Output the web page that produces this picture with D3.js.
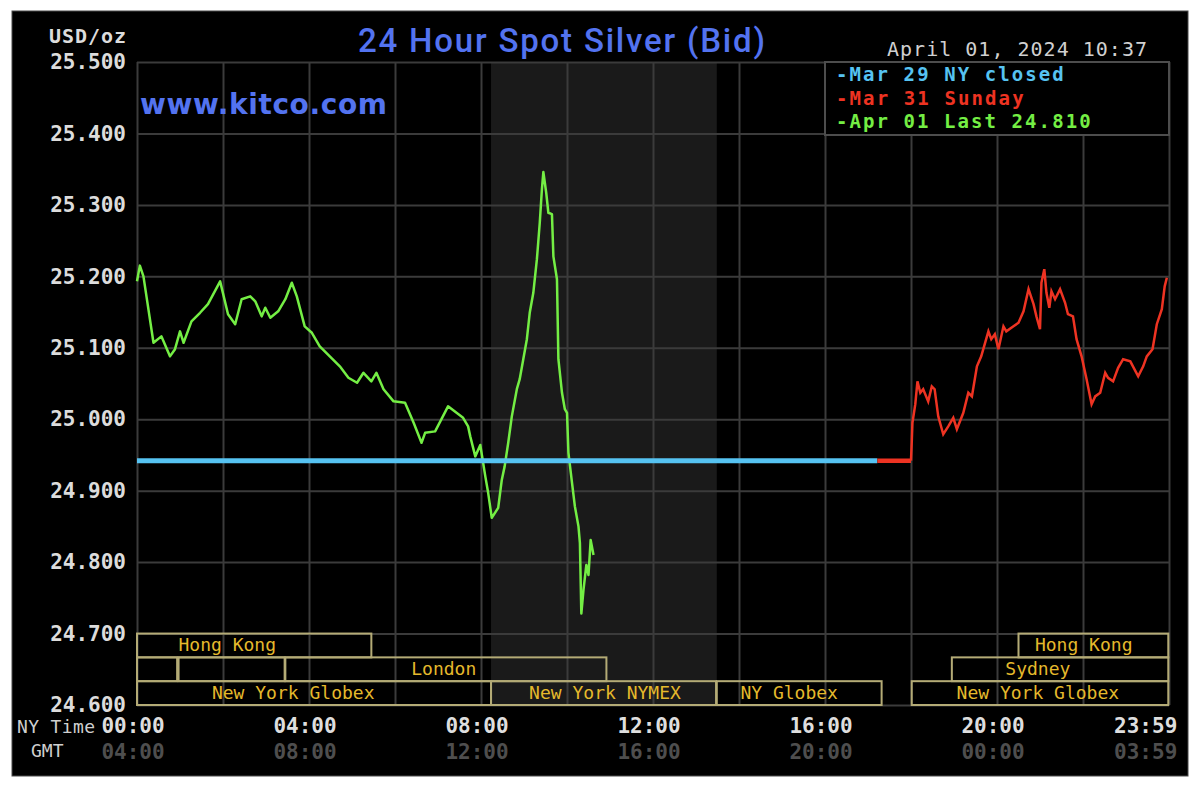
<!DOCTYPE html>
<html>
<head>
<meta charset="utf-8">
<script src="https://cdn.jsdelivr.net/npm/d3@7"></script>
<style>
  html, body { margin: 0; padding: 0; background: #fff; }
  svg { display: block; }
</style>
</head>
<body>
<script>
/* -------------------------------- Data -------------------------------- */
const yTicks = [24.6, 24.7, 24.8, 24.9, 25.0, 25.1, 25.2, 25.3, 25.4, 25.5];
const labelMinutes = [0, 240, 480, 720, 960, 1200, 1439];
const nyTimeLabels = ["00:00", "04:00", "08:00", "12:00", "16:00", "20:00", "23:59"];
const gmtLabels = ["04:00", "08:00", "12:00", "16:00", "20:00", "00:00", "03:59"];

// Mar 29 NY close, carried flat across the day
const closeValue = 24.942;
const closeMinutes = [0, 1033];
const sundayFlatMinutes = [1033, 1080];

// Apr 01 (green), minutes after 00:00 NY time
const todayMinutes = [0, 4, 9, 23, 34, 46, 53, 60, 65, 76, 88, 99, 116, 127, 137, 146, 158, 165, 174, 179,
  186, 197, 207, 216, 223, 234, 244, 255, 269, 283, 295, 307, 316, 327, 334, 344, 358, 374, 386, 397,
  402, 416, 434, 455, 462, 465, 472, 479, 486, 490, 495, 504, 509, 513, 518, 523, 530, 534, 539, 544,
  548, 553, 558, 562, 565, 567, 571, 574, 579, 581, 586, 588, 593, 597, 600, 602, 607, 611, 616, 618,
  620, 623, 627, 630, 633, 637];
const todayValues = [25.193, 25.215, 25.200, 25.107, 25.116, 25.088, 25.098, 25.123, 25.107, 25.137,
  25.149, 25.161, 25.193, 25.147, 25.133, 25.168, 25.172, 25.165, 25.144, 25.156,
  25.142, 25.151, 25.168, 25.191, 25.172, 25.130, 25.121, 25.102, 25.088, 25.074,
  25.058, 25.051, 25.065, 25.053, 25.065, 25.042, 25.025, 25.023, 24.995, 24.967,
  24.981, 24.983, 25.018, 25.002, 24.990, 24.976, 24.948, 24.964, 24.920, 24.897,
  24.862, 24.876, 24.915, 24.934, 24.967, 25.004, 25.042, 25.056, 25.084, 25.112,
  25.149, 25.177, 25.224, 25.275, 25.322, 25.346, 25.317, 25.289, 25.287, 25.228,
  25.196, 25.084, 25.037, 25.014, 25.009, 24.953, 24.911, 24.878, 24.850, 24.827,
  24.728, 24.761, 24.796, 24.782, 24.831, 24.810];

// Mar 31 Sunday evening (red)
const sundayMinutes = [1080, 1081, 1082, 1086, 1089, 1093, 1097, 1104, 1109, 1113,
  1118, 1125, 1132, 1139, 1144, 1153, 1160, 1165, 1172, 1178,
  1188, 1192, 1197, 1202, 1209, 1213, 1223, 1230, 1237, 1244,
  1251, 1255, 1260, 1262, 1266, 1269, 1273, 1276, 1281, 1288,
  1295, 1299, 1306, 1311, 1318, 1325, 1332, 1337, 1344, 1351,
  1355, 1362, 1369, 1376, 1386, 1397, 1404, 1409, 1417, 1423,
  1430, 1434, 1437];
const sundayValues = [24.942, 24.967, 24.995, 25.021, 25.053, 25.037, 25.042, 25.025, 25.046, 25.042,
  25.004, 24.979, 24.990, 25.002, 24.986, 25.009, 25.037, 25.032, 25.074, 25.088,
  25.123, 25.112, 25.119, 25.098, 25.130, 25.123, 25.130, 25.135, 25.151, 25.182,
  25.161, 25.144, 25.126, 25.191, 25.210, 25.177, 25.156, 25.179, 25.168, 25.182,
  25.163, 25.147, 25.144, 25.112, 25.088, 25.056, 25.021, 25.032, 25.037, 25.065,
  25.058, 25.053, 25.072, 25.084, 25.081, 25.060, 25.074, 25.088, 25.098, 25.133,
  25.154, 25.186, 25.198];

// market sessions: row 0 is the top band
const sessionNames = ["Hong Kong", "Hong Kong", "", "", "London", "Sydney",
  "New York Globex", "New York NYMEX", "NY Globex", "New York Globex"];
const sessionRows = [0, 0, 1, 1, 1, 1, 2, 2, 2, 2];
const sessionStart = [0, 1230, 0, 58, 207, 1137, 0, 494, 809, 1081];
const sessionEnd = [327, 1439, 56, 206, 655, 1439, 494, 808, 1039, 1439];
const sessionLabelAt = [126, 1321, 0, 0, 428, 1257, 218, 653, 910, 1257];
const nymexSpan = [494, 809];

const legendLabels = ["-Mar 29 NY closed", "-Mar 31 Sunday", "-Apr 01 Last 24.810"];

/* ------------------------------- Layout ------------------------------- */
const width = 1200, height = 795;
const plot = { left: 137, right: 1169, top: 62, bottom: 705 };
const mono = "'DejaVu Sans Mono', monospace";
const colors = { close: "#56c3f2", sunday: "#ee3322", today: "#74ee44", grid: "#3b3b3b",
  session: "#b4ab76", sessionText: "#e5b92c", title: "#5373f0" };

const svg = d3.select("body").append("svg")
  .attr("width", width)
  .attr("height", height);

const x = d3.scaleLinear().domain([0, 1440]).range([plot.left, plot.right]);
const y = d3.scaleLinear().domain([24.6, 25.5]).range([plot.bottom, plot.top]);

// black panel
svg.append("rect")
  .attr("x", 12).attr("y", 11).attr("width", 1176).attr("height", 765)
  .attr("fill", "#000").attr("stroke", "#4a4a4a").attr("stroke-width", 1);

// NYMEX shading
svg.append("rect")
  .attr("x", x(nymexSpan[0])).attr("y", plot.top)
  .attr("width", x(nymexSpan[1]) - x(nymexSpan[0]))
  .attr("height", plot.bottom - plot.top)
  .attr("fill", "#1a1a1a");

/* -------------------------------- Grid -------------------------------- */
svg.append("g")
  .attr("transform", `translate(${plot.left},0)`)
  .call(d3.axisLeft(y).tickValues(yTicks).tickSize(-(plot.right - plot.left)).tickFormat(""))
  .call(g => g.select(".domain").remove())
  .call(g => g.selectAll("line").attr("stroke", colors.grid).attr("stroke-width", 2));

svg.append("g")
  .attr("transform", `translate(0,${plot.bottom})`)
  .call(d3.axisBottom(x).tickValues(d3.range(0, 1441, 120)).tickSize(-(plot.bottom - plot.top)).tickFormat(""))
  .call(g => g.select(".domain").remove())
  .call(g => g.selectAll("line").attr("stroke", colors.grid).attr("stroke-width", 2));

/* ------------------------------ Sessions ------------------------------ */
const rowH = (y(24.6) - y(24.7)) / 3;
const sessions = sessionNames.map((name, i) => ({
  name, row: sessionRows[i], start: sessionStart[i], end: sessionEnd[i], at: sessionLabelAt[i]
}));
const sessG = svg.append("g");
sessG.selectAll("rect")
  .data(sessions)
  .join("rect")
  .attr("x", d => x(d.start))
  .attr("y", d => y(24.7) + d.row * rowH)
  .attr("width", d => x(d.end) - x(d.start))
  .attr("height", rowH)
  .attr("fill", "none")
  .attr("stroke", colors.session)
  .attr("stroke-width", 2);
sessG.selectAll("text")
  .data(sessions.filter(d => d.name))
  .join("text")
  .attr("x", d => x(d.at))
  .attr("y", d => y(24.7) + (d.row + 1) * rowH - 6)
  .attr("text-anchor", "middle")
  .attr("fill", colors.sessionText)
  .style("font", `18px ${mono}`)
  .text(d => d.name);

/* -------------------------------- Lines ------------------------------- */
const line = d3.line().x(d => x(d[0])).y(d => y(d[1]));

svg.append("path")
  .datum(d3.zip(sundayMinutes, sundayValues))
  .attr("d", line)
  .attr("fill", "none").attr("stroke", colors.sunday).attr("stroke-width", 2.5);

svg.append("path")
  .datum(d3.zip(todayMinutes, todayValues))
  .attr("d", line)
  .attr("fill", "none").attr("stroke", colors.today).attr("stroke-width", 2.5)
  .attr("stroke-linejoin", "round");

svg.append("path")
  .datum(closeMinutes.map(m => [m, closeValue]))
  .attr("d", line)
  .attr("fill", "none").attr("stroke", colors.close).attr("stroke-width", 5);

svg.append("path")
  .datum(sundayFlatMinutes.map(m => [m, closeValue]))
  .attr("d", line)
  .attr("fill", "none").attr("stroke", colors.sunday).attr("stroke-width", 4.5);

/* ------------------------------- Axes --------------------------------- */
svg.append("g")
  .attr("transform", `translate(${plot.left},0)`)
  .call(d3.axisLeft(y).tickValues(yTicks).tickSize(0).tickPadding(11).tickFormat(d3.format(".3f")))
  .call(g => g.select(".domain").remove())
  .call(g => g.selectAll("text")
    .attr("fill", "#dcdcdc")
    .style("font", `bold 21px ${mono}`));

svg.append("text")
  .attr("x", 49).attr("y", 43)
  .attr("textLength", 77)
  .attr("fill", "#dcdcdc").style("font", `bold 20px ${mono}`)
  .text("USD/oz");

const lastIdx = labelMinutes.length - 1;
const labelX = (d, i) => i === lastIdx ? x(d) + 9 : x(d) - 4;
const labelAnchor = (d, i) => i === lastIdx ? "end" : "middle";
const xLab = svg.append("g");
xLab.selectAll("text.ny")
  .data(labelMinutes)
  .join("text")
  .attr("class", "ny")
  .attr("x", labelX)
  .attr("y", 733)
  .attr("text-anchor", labelAnchor)
  .attr("fill", "#dedede")
  .style("font", `bold 21px ${mono}`)
  .text((d, i) => nyTimeLabels[i]);
xLab.selectAll("text.gmt")
  .data(labelMinutes)
  .join("text")
  .attr("class", "gmt")
  .attr("x", labelX)
  .attr("y", 759)
  .attr("text-anchor", labelAnchor)
  .attr("fill", "#4e4e4e")
  .style("font", `bold 21px ${mono}`)
  .text((d, i) => gmtLabels[i]);

svg.append("text")
  .attr("x", 17).attr("y", 733)
  .attr("fill", "#cfcfcf").style("font", `18px ${mono}`)
  .attr("textLength", 78)
  .text("NY Time");
svg.append("text")
  .attr("x", 31).attr("y", 757)
  .attr("fill", "#cfcfcf").style("font", `18px ${mono}`)
  .text("GMT");

/* ------------------------------- Titles ------------------------------- */
svg.append("text")
  .attr("x", 358).attr("y", 52)
  .attr("textLength", 407)
  .attr("fill", colors.title)
  .style("font", "500 33px Roboto, 'Liberation Sans', sans-serif")
  .text("24 Hour Spot Silver (Bid)");

svg.append("text")
  .attr("x", 140).attr("y", 114)
  .attr("textLength", 247)
  .attr("fill", colors.title)
  .style("font", "bold 28px 'DejaVu Sans', sans-serif")
  .text("www.kitco.com");

svg.append("text")
  .attr("x", 1147).attr("y", 56).attr("text-anchor", "end")
  .attr("fill", "#d0d0d0").style("font", `20px ${mono}`)
  .attr("textLength", 260)
  .text("April 01, 2024 10:37");

/* ------------------------------- Legend ------------------------------- */
const legend = svg.append("g");
legend.append("rect")
  .attr("x", x(960)).attr("y", plot.top)
  .attr("width", plot.right - x(960)).attr("height", 73)
  .attr("fill", "#000").attr("stroke", "#4d4d4d").attr("stroke-width", 2);
const legendColors = [colors.close, colors.sunday, colors.today];
legend.selectAll("text")
  .data(legendLabels)
  .join("text")
  .attr("x", 836)
  .attr("y", (d, i) => 81 + i * 23.5)
  .attr("fill", (d, i) => legendColors[i])
  .attr("textLength", d => d.length * 13.4)
  .style("font", `bold 19px ${mono}`)
  .text(d => d);
</script>
</body>
</html>
